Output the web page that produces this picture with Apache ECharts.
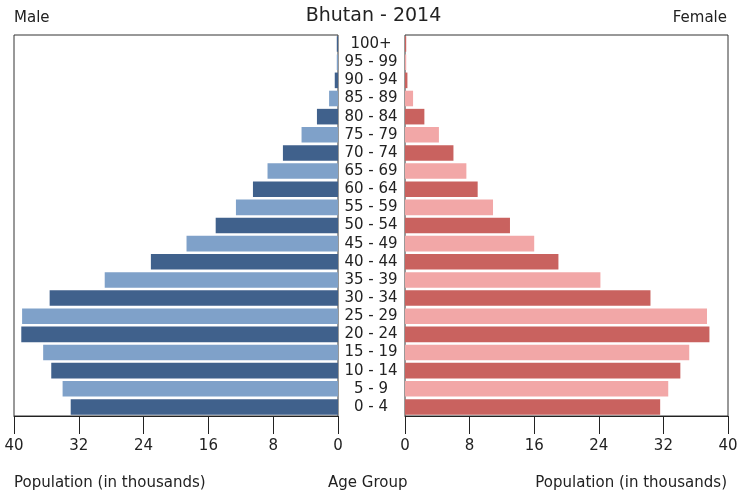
<!DOCTYPE html>
<html>
<head>
<meta charset="utf-8">
<script src="https://cdn.jsdelivr.net/npm/echarts@6/dist/echarts.min.js"></script>
<style>html,body{margin:0;padding:0;background:#fff}#c{width:747px;height:495px}</style>
</head>
<body>
<div id="c"></div>
<script>
const ageGroups = ['0 - 4','5 - 9','10 - 14','15 - 19','20 - 24','25 - 29','30 - 34','35 - 39','40 - 44','45 - 49','50 - 54','55 - 59','60 - 64','65 - 69','70 - 74','75 - 79','80 - 84','85 - 89','90 - 94','95 - 99','100+'];
const maleValues = [33.0, 34.0, 35.4, 36.4, 39.1, 39.0, 35.6, 28.8, 23.1, 18.7, 15.1, 12.6, 10.5, 8.7, 6.8, 4.5, 2.6, 1.1, 0.4, 0.15, 0.15];
const femaleValues = [31.6, 32.6, 34.1, 35.2, 37.7, 37.4, 30.4, 24.2, 19.0, 16.0, 13.0, 10.9, 9.0, 7.6, 6.0, 4.2, 2.4, 1.0, 0.3, 0.15, 0.15];
const axisTicks = [0, 8, 16, 24, 32, 40];

const maleColors = ['#40618c', '#7fa1c9'];
const femaleColors = ['#c9625f', '#f2a7a7'];
const font = 'DejaVu Sans';
const fs = 15;
const chart = echarts.init(document.getElementById('c'), null, {renderer: 'canvas'});

const xCommon = (gridIndex, inverse) => ({
  type: 'value', gridIndex, inverse, min: axisTicks[0], max: axisTicks[axisTicks.length - 1], interval: 8,
  splitLine: {show: false},
  axisLine: {show: true, lineStyle: {color: '#222', width: 1}},
  axisTick: {show: true, length: 18, lineStyle: {color: '#222', width: 1}},
  axisLabel: {color: '#222', fontFamily: font, fontSize: fs, margin: 23}
});
const yCommon = (gridIndex, showLabels) => ({
  type: 'category', gridIndex, data: ageGroups, position: 'right',
  axisLine: {show: false}, axisTick: {show: false}, splitLine: {show: false},
  axisLabel: {show: showLabels, color: '#222', fontFamily: font, fontSize: fs, align: 'center', margin: 33, interval: 0}
});
const ts = (size) => ({fontFamily: font, fontSize: size, fontWeight: 'normal', color: '#222'});

chart.setOption({
  animation: false,
  backgroundColor: '#fff',
  title: [
    {text: 'Bhutan - 2014', left: 'center', top: 2, textStyle: ts(19)},
    {text: 'Male', left: 9, top: 6, textStyle: ts(fs)},
    {text: 'Female', right: 15, top: 6, textStyle: ts(fs)},
    {text: 'Population (in thousands)', left: 9, top: 471, textStyle: ts(fs)},
    {text: 'Age Group', left: 323, top: 471, textStyle: ts(fs)},
    {text: 'Population (in thousands)', right: 15, top: 471, textStyle: ts(fs)}
  ],
  grid: [
    {left: 14, right: 409, top: 35, bottom: 79, show: true, borderColor: '#333', borderWidth: 1, backgroundColor: 'transparent'},
    {left: 405, right: 19, top: 35, bottom: 79, show: true, borderColor: '#333', borderWidth: 1, backgroundColor: 'transparent'}
  ],
  xAxis: [xCommon(0, true), xCommon(1, false)],
  yAxis: [yCommon(0, true), yCommon(1, false)],
  series: [
    {
      type: 'bar', xAxisIndex: 0, yAxisIndex: 0, barCategoryGap: '14%',
      data: maleValues.map((v, i) => ({value: v, itemStyle: {color: maleColors[i % 2]}}))
    },
    {
      type: 'bar', xAxisIndex: 1, yAxisIndex: 1, barCategoryGap: '14%',
      data: femaleValues.map((v, i) => ({value: v, itemStyle: {color: femaleColors[i % 2]}}))
    }
  ]
});
</script>
</body>
</html>
